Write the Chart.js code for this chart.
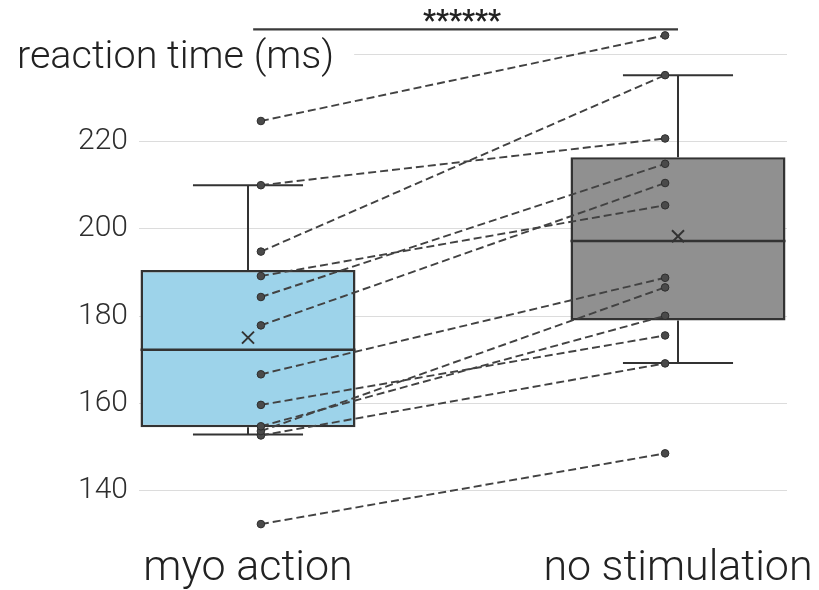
<!DOCTYPE html>
<html><head><meta charset="utf-8">
<script src="https://cdn.jsdelivr.net/npm/chart.js@4.4.0/dist/chart.umd.min.js"></script>
<style>html,body{margin:0;padding:0;background:#fff}#wrap{width:819px;height:590px;position:relative}</style>
</head><body><div id="wrap"><canvas id="c"></canvas></div>
<script>
// ---- data ----
const categories = ['myo action', 'no stimulation'];
const yTicks = [140, 160, 180, 200, 220, 240];
const myoAction     = [224.7, 210.0, 194.8, 189.2, 184.4, 177.9, 166.7, 159.7, 154.8, 153.7, 152.7, 132.4];
const noStimulation = [244.3, 220.7, 235.2, 205.4, 214.9, 210.5, 188.8, 175.6, 180.1, 186.6, 169.2, 148.6];
const boxQ1 = [154.6, 179.0];
const boxQ3 = [190.6, 216.4];
const boxMedian = [172.3, 197.2];
const whiskerLow = [152.9, 169.3];
const whiskerHigh = [210.0, 235.2];
const boxMean = [175.1, 198.3];
const yAxisTitle = 'reaction time (ms)';
const sigLabel = '******';
const sigLevel = 245.7;

// ---- geometry / style (not data) ----
const BOX_HALF = 0.25, CAP_HALF = 0.128, PT_OFF = 0.03;
const DARK = '#333333', PT = '#424242';
const boxFill = ['#9dd3ea', '#909090'];
const FONT = 'Roboto, "Open Sans", sans-serif';

const datasets = [];
// boxes as floating bars
datasets.push({
  type: 'bar', order: 20,
  data: categories.map((c, i) => ({ x: i, y: [boxQ1[i], boxQ3[i]] })),
  backgroundColor: boxFill, borderColor: DARK, borderWidth: 2.5, borderSkipped: false,
  barPercentage: 2 * BOX_HALF, categoryPercentage: 1.0, grouped: false
});
categories.forEach((c, i) => {
  const seg = (pts, w) => datasets.push({ type: 'line', order: 15, data: pts, borderColor: DARK,
    borderWidth: w, pointRadius: 0, fill: false, showLine: true });
  seg([{ x: i, y: boxQ3[i] }, { x: i, y: whiskerHigh[i] }], 2);
  seg([{ x: i, y: boxQ1[i] }, { x: i, y: whiskerLow[i] }], 2);
  seg([{ x: i - CAP_HALF, y: whiskerHigh[i] }, { x: i + CAP_HALF, y: whiskerHigh[i] }], 2);
  seg([{ x: i - CAP_HALF, y: whiskerLow[i] }, { x: i + CAP_HALF, y: whiskerLow[i] }], 2);
  seg([{ x: i - BOX_HALF, y: boxMedian[i] }, { x: i + BOX_HALF, y: boxMedian[i] }], 2.5);
});
// means
datasets.push({ type: 'scatter', order: 12, data: categories.map((c, i) => ({ x: i, y: boxMean[i] })),
  pointStyle: 'crossRot', pointRadius: 8.5, borderColor: DARK, borderWidth: 2, backgroundColor: DARK });
// paired lines
myoAction.forEach((v, k) => {
  datasets.push({ type: 'line', order: 1,
    data: [{ x: 0 + PT_OFF, y: v }, { x: 1 - PT_OFF, y: noStimulation[k] }],
    borderColor: PT, borderWidth: 1.9, borderDash: [8, 4], pointRadius: 3.8,
    pointBackgroundColor: '#4a4a4a', pointBorderColor: '#2e2e2e', pointBorderWidth: 1, fill: false });
});
// significance bar
datasets.push({ type: 'line', order: 2, data: [{ x: 0.012, y: sigLevel }, { x: 1, y: sigLevel }],
  borderColor: '#3a3a3a', borderWidth: 2.2, pointRadius: 0, fill: false });

const decor = {
  id: 'decor',
  beforeDatasetsDraw(chart) {
    const { ctx, scales: { y }, chartArea } = chart;
    ctx.save();
    ctx.font = '300 39px ' + FONT;
    const tw = ctx.measureText(yAxisTitle).width;
    const yy = Math.round(y.getPixelForValue(yTicks[yTicks.length - 1])) + 0.5;
    ctx.strokeStyle = '#dcdcdc'; ctx.lineWidth = 1;
    ctx.beginPath(); ctx.moveTo(17 + tw + 24, yy); ctx.lineTo(chartArea.right, yy); ctx.stroke();
    ctx.restore();
  },
  afterDraw(chart) {
    const { ctx, scales: { x, y } } = chart;
    ctx.save();
    ctx.fillStyle = '#222';
    ctx.font = '300 39.5px ' + FONT;
    ctx.textAlign = 'left'; ctx.textBaseline = 'alphabetic';
    ctx.fillText(yAxisTitle, 17, 68);
    ctx.font = '600 29px ' + FONT;
    ctx.textAlign = 'center';
    ctx.fillText(sigLabel, (x.getPixelForValue(0) + x.getPixelForValue(1)) / 2 - 1, y.getPixelForValue(sigLevel) + 1);
    ctx.restore();
  }
};

new Chart(document.getElementById('c'), {
  data: { datasets },
  options: {
    responsive: true, maintainAspectRatio: false, animation: false,
    layout: { padding: { top: 8, left: 0, right: 32, bottom: 0 } },
    plugins: { legend: { display: false }, tooltip: { enabled: false } },
    scales: {
      x: {
        type: 'linear', min: -0.2535, max: 1.2535, offset: false,
        afterBuildTicks: s => { s.ticks = categories.map((c, i) => ({ value: i })); },
        afterFit: s => { s.height = 55.4; s.paddingLeft = 0; s.paddingRight = 0; },
        ticks: { callback: v => categories[v], font: { family: FONT, size: 43, weight: 300 }, color: '#222', padding: 9, maxRotation: 0, autoSkip: false },
        grid: { display: false, drawTicks: false }, border: { display: false }
      },
      y: {
        type: 'linear', min: 130, max: 250,
        afterBuildTicks: s => { s.ticks = yTicks.map(v => ({ value: v })); },
        afterFit: s => { s.width = 139; s.paddingTop = 0; s.paddingBottom = 0; },
        ticks: { callback: v => (v === yTicks[yTicks.length - 1] ? '' : v), font: { family: FONT, size: 30, weight: 300 }, color: '#2e2e2e', padding: 11 },
        grid: { color: c => (c.tick && c.tick.value === yTicks[yTicks.length - 1] ? 'rgba(0,0,0,0)' : '#dcdcdc'), drawTicks: false, lineWidth: 1 },
        border: { display: false }
      }
    }
  },
  plugins: [decor]
});
</script>
</body></html>
